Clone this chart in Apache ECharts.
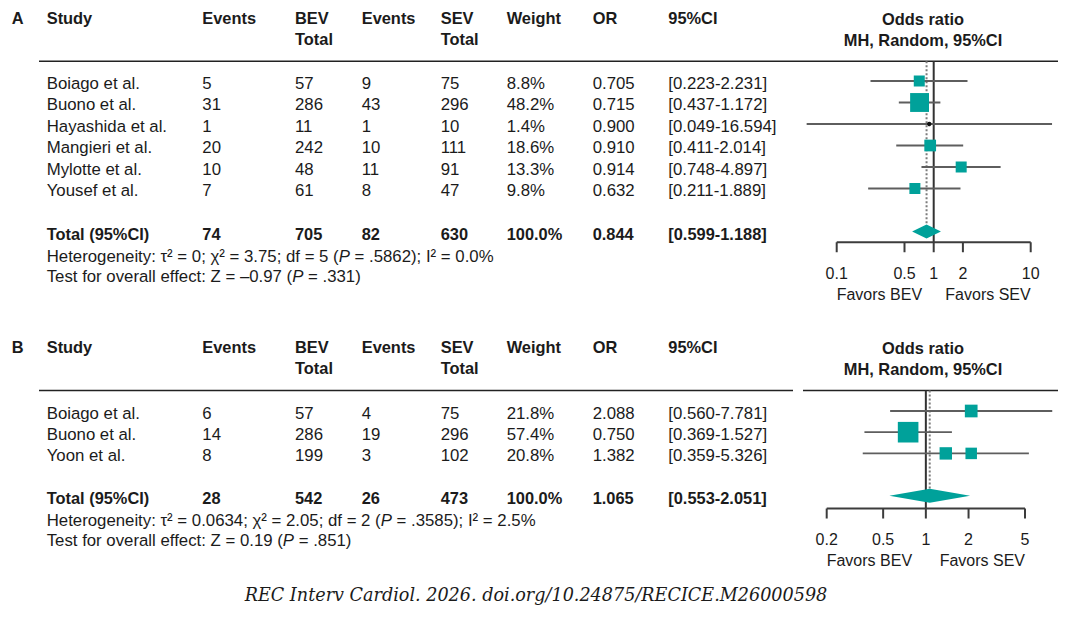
<!DOCTYPE html>
<html><head><meta charset="utf-8">
<script src="https://cdn.jsdelivr.net/npm/echarts@6/dist/echarts.min.js"></script>
<style>html,body{margin:0;padding:0;background:#fff}#c{width:1072px;height:621px}</style>
</head><body><div id="c"></div>
<script>
// ---------- Panel A data ----------
const studiesA = ['Boiago et al.', 'Buono et al.', 'Hayashida et al.', 'Mangieri et al.', 'Mylotte et al.', 'Yousef et al.'];
const eventsBevA = [5, 31, 1, 20, 10, 7];
const totalBevA = [57, 286, 11, 242, 48, 61];
const eventsSevA = [9, 43, 1, 10, 11, 8];
const totalSevA = [75, 296, 10, 111, 91, 47];
const weightA = [8.8, 48.2, 1.4, 18.6, 13.3, 9.8];
const orTextA = ['0.705', '0.715', '0.900', '0.910', '0.914', '0.632'];
const lowA = [0.223, 0.437, 0.049, 0.411, 0.748, 0.211];
const highA = [2.231, 1.172, 16.594, 2.014, 4.897, 1.889];
const pointA = [0.71, 0.715, 0.90, 0.92, 1.92, 0.64];   // marker positions as drawn
const totalRowA = ['Total (95%CI)', '74', '705', '82', '630', '100.0%', '0.844', '[0.599-1.188]'];
const pooledA = [0.844, 0.599, 1.188];
const ticksA = [0.1, 0.5, 1, 2, 10];
const statsA = ['Heterogeneity: τ² = 0; χ² = 3.75; df = 5 ({i|P} = .5862); I² = 0.0%', 'Test for overall effect: Z = –0.97 ({i|P} = .331)'];

// ---------- Panel B data ----------
const studiesB = ['Boiago et al.', 'Buono et al.', 'Yoon et al.'];
const eventsBevB = [6, 14, 8];
const totalBevB = [57, 286, 199];
const eventsSevB = [4, 19, 3];
const totalSevB = [75, 296, 102];
const weightB = [21.8, 57.4, 20.8];
const orTextB = ['2.088', '0.750', '1.382'];
const lowB = [0.560, 0.369, 0.359];
const highB = [7.781, 1.527, 5.326];
const pointB = [2.088, 0.750, 1.382];
const extraPointB = [[2.088, 2]];   // extra square drawn on the Yoon row
const totalRowB = ['Total (95%CI)', '28', '542', '26', '473', '100.0%', '1.065', '[0.553-2.051]'];
const pooledB = [1.065, 0.553, 2.051];
const ticksB = [0.2, 0.5, 1, 2, 5];
const statsB = ['Heterogeneity: τ² = 0.0634; χ² = 2.05; df = 2 ({i|P} = .3585); I² = 2.5%', 'Test for overall effect: Z = 0.19 ({i|P} = .851)'];

const headTop = ['Study', 'Events', 'BEV', 'Events', 'SEV', 'Weight', 'OR', '95%CI'];
const headBottom = ['', '', 'Total', '', 'Total', '', '', ''];
const plotTitle = ['Odds ratio', 'MH, Random, 95%CI'];
const favors = ['Favors BEV', 'Favors SEV'];
const caption = 'REC Interv Cardiol. 2026. doi.org/10.24875/RECICE.M26000598';

// ---------- styling / layout ----------
const FONT = 'Liberation Sans, Arial, Helvetica, sans-serif';
const FS = 16.8, FSB = 16.4, FSA = 16;
const C_TEXT = '#1b1b1b', C_TEAL = '#00a19a', C_CI = '#5e5e5e', C_AXIS = '#3c3c3c';
const colX = [46.7, 202.3, 295, 361.7, 440.7, 506.7, 592.7, 668.3];

const panels = [
  { label: 'A', studies: studiesA, evB: eventsBevA, totB: totalBevA, evS: eventsSevA, totS: totalSevA,
    weight: weightA, orText: orTextA, low: lowA, high: highA, point: pointA, extra: [],
    totalRow: totalRowA, pooled: pooledA, ticks: ticksA, stats: statsA,
    grid: { left: 836.7, top: 59.5, width: 194, height: 193.5 }, yMin: -1, yMax: 8,
    pooledRow: 7, axisRow: 7.5, headRow: -0.92, headY: 18.3, lineY: 61.3, split: false },
  { label: 'B', studies: studiesB, evB: eventsBevB, totB: totalBevB, evS: eventsSevB, totS: totalSevB,
    weight: weightB, orText: orTextB, low: lowB, high: highB, point: pointB, extra: extraPointB,
    totalRow: totalRowB, pooled: pooledB, ticks: ticksB, stats: statsB,
    grid: { left: 826.7, top: 389.8, width: 198.3, height: 127.2 }, yMin: -1, yMax: 5,
    pooledRow: 4, axisRow: 4.6, headRow: -0.97, headY: 347.3, lineY: 390.5, split: true }
];

function txt(text, x, y, o) {
  o = o || {};
  return { type: 'text', x: x, y: y, silent: true, z: 10,
    style: { text: text, fill: C_TEXT, fontSize: o.size || FS, fontFamily: o.family || FONT,
      fontWeight: o.bold ? 'bold' : 'normal', fontStyle: o.italic ? 'italic' : 'normal',
      textAlign: o.align || 'left', textVerticalAlign: 'middle' } };
}

const grids = [], xAxes = [], yAxes = [], series = [], graphics = [];

panels.forEach(function (P, gi) {
  grids.push(P.grid);
  xAxes.push({ type: 'log', logBase: 10, gridIndex: gi, min: P.ticks[0], max: P.ticks[P.ticks.length - 1], show: false });
  yAxes.push({ type: 'value', gridIndex: gi, min: P.yMin, max: P.yMax, inverse: true, show: false });

  // header texts
  graphics.push(txt(P.label, 11.7, P.headY, { bold: true, size: FSB }));
  headTop.forEach(function (t, k) { graphics.push(txt(t, colX[k], P.headY, { bold: true, size: FSB })); });
  headBottom.forEach(function (t, k) { if (t) graphics.push(txt(t, colX[k], P.headY + 21, { bold: true, size: FSB })); });
  graphics.push(txt(plotTitle[0], 923, P.headY + 0.5, { bold: true, align: 'center', size: FSB }));
  graphics.push(txt(plotTitle[1], 923, P.headY + 22, { bold: true, align: 'center', size: FSB }));
  // header rule
  if (P.split) {
    graphics.push({ type: 'line', silent: true, shape: { x1: 39, y1: P.lineY, x2: 793, y2: P.lineY }, style: { stroke: '#222', lineWidth: 1.5 } });
    graphics.push({ type: 'line', silent: true, shape: { x1: 803, y1: P.lineY, x2: 1058, y2: P.lineY }, style: { stroke: '#222', lineWidth: 1.5 } });
  } else {
    graphics.push({ type: 'line', silent: true, shape: { x1: 39, y1: P.lineY, x2: 1058, y2: P.lineY }, style: { stroke: '#222', lineWidth: 1.5 } });
  }

  // table text rows, placed on the forest plot's own row scale
  const tableData = P.studies.map(function (s, i) { return [1, i, i]; });
  tableData.push([1, P.pooledRow, -1]);
  series.push({
    type: 'custom', coordinateSystem: 'cartesian2d', xAxisIndex: gi, yAxisIndex: gi, silent: true, clip: false, z: 5,
    encode: { x: 0, y: 1 }, data: tableData,
    renderItem: function (params, api) {
      const idx = api.value(2);
      const y = api.coord([1, api.value(1)])[1] + 2;
      const bold = idx < 0;
      const cells = bold ? P.totalRow : [P.studies[idx], P.evB[idx], P.totB[idx], P.evS[idx], P.totS[idx],
        P.weight[idx].toFixed(1) + '%', P.orText[idx], '[' + P.low[idx].toFixed(3) + '-' + P.high[idx].toFixed(3) + ']'];
      const children = cells.map(function (t, k) {
        return { type: 'text', style: { text: String(t), x: colX[k], y: y, fill: C_TEXT, fontSize: bold ? FSB : FS, fontFamily: FONT,
          fontWeight: bold ? 'bold' : 'normal', textAlign: 'left', textVerticalAlign: 'middle' } };
      });
      if (bold) {
        P.stats.forEach(function (s, j) {
          children.push({ type: 'text', style: { text: s, x: colX[0], y: y + 22.5 + 20 * j, fill: C_TEXT, fontSize: FS, fontFamily: FONT,
            textAlign: 'left', textVerticalAlign: 'middle',
            rich: { i: { fontStyle: 'italic', fontSize: FS, fontFamily: FONT, fill: C_TEXT } } } });
        });
      }
      return { type: 'group', children: children };
    }
  });

  // null-effect line
  series.push({ type: 'line', xAxisIndex: gi, yAxisIndex: gi, silent: true, symbol: 'none', z: 2, animation: false,
    data: [[1, P.headRow], [1, P.axisRow]], lineStyle: { color: '#333', width: 2 } });
  // pooled estimate dotted line
  series.push({ type: 'line', xAxisIndex: gi, yAxisIndex: gi, silent: true, symbol: 'none', z: 2, animation: false,
    data: [[P.pooled[0], P.headRow], [P.pooled[0], P.pooledRow - 0.33]], lineStyle: { color: '#7c7c7c', width: 2, type: [2, 2] } });
  // bottom axis line
  series.push({ type: 'line', xAxisIndex: gi, yAxisIndex: gi, silent: true, symbol: 'none', z: 2, animation: false,
    data: [[P.ticks[0], P.axisRow], [P.ticks[P.ticks.length - 1], P.axisRow]], lineStyle: { color: C_AXIS, width: 2 } });

  // ticks + labels
  series.push({
    type: 'custom', coordinateSystem: 'cartesian2d', xAxisIndex: gi, yAxisIndex: gi, silent: true, clip: false, z: 3,
    encode: { x: 0, y: 1 }, data: P.ticks.map(function (v) { return [v, P.axisRow]; }),
    renderItem: function (params, api) {
      const p = api.coord([api.value(0), api.value(1)]);
      return { type: 'group', children: [
        { type: 'line', shape: { x1: p[0], y1: p[1], x2: p[0], y2: p[1] + 10 }, style: { stroke: C_AXIS, lineWidth: 2 } },
        { type: 'text', style: { text: String(api.value(0)), x: p[0], y: p[1] + 31, fill: C_TEXT, fontSize: FSA, fontFamily: FONT,
          textAlign: 'center', textVerticalAlign: 'middle' } }
      ] };
    }
  });
  // favours labels
  series.push({
    type: 'custom', coordinateSystem: 'cartesian2d', xAxisIndex: gi, yAxisIndex: gi, silent: true, clip: false, z: 3,
    encode: { x: 0, y: 1 },
    data: [[P.ticks[0], P.axisRow, 0], [P.ticks[P.ticks.length - 1], P.axisRow, 1]],
    renderItem: function (params, api) {
      const p = api.coord([api.value(0), api.value(1)]);
      const k = api.value(2);
      return { type: 'text', style: { text: favors[k], x: p[0], y: p[1] + 52, fill: C_TEXT, fontSize: FSA, fontFamily: FONT,
        textAlign: k === 0 ? 'left' : 'right', textVerticalAlign: 'middle' } };
    }
  });

  // study CIs and squares
  series.push({
    type: 'custom', coordinateSystem: 'cartesian2d', xAxisIndex: gi, yAxisIndex: gi, silent: true, clip: false, z: 4,
    encode: { x: 0, y: 1 },
    data: P.point.map(function (v, i) { return [v, i, P.low[i], P.high[i], P.weight[i]]; }),
    renderItem: function (params, api) {
      const row = api.value(1), w = api.value(4);
      const c = api.coord([api.value(0), row]);
      const l = api.coord([api.value(2), row]);
      const h = api.coord([api.value(3), row]);
      const children = [{ type: 'line', shape: { x1: l[0], y1: l[1], x2: h[0], y2: h[1] }, style: { stroke: C_CI, lineWidth: 1.8 } }];
      if (w < 5) {
        children.push({ type: 'circle', shape: { cx: c[0], cy: c[1], r: 2.2 }, style: { fill: '#111' } });
      } else {
        const s = Math.max(11, 2.72 * Math.sqrt(w));
        children.push({ type: 'rect', shape: { x: c[0] - s / 2, y: c[1] - s / 2, width: s, height: s }, style: { fill: C_TEAL } });
      }
      return { type: 'group', children: children };
    }
  });
  if (P.extra.length) {
    series.push({
      type: 'custom', coordinateSystem: 'cartesian2d', xAxisIndex: gi, yAxisIndex: gi, silent: true, clip: false, z: 4,
      encode: { x: 0, y: 1 }, data: P.extra,
      renderItem: function (params, api) {
        const c = api.coord([api.value(0), api.value(1)]);
        const s = 11.5;
        return { type: 'rect', shape: { x: c[0] - s / 2, y: c[1] - s / 2, width: s, height: s }, style: { fill: C_TEAL } };
      }
    });
  }
  // pooled diamond
  series.push({
    type: 'custom', coordinateSystem: 'cartesian2d', xAxisIndex: gi, yAxisIndex: gi, silent: true, clip: false, z: 4,
    encode: { x: 0, y: 1 }, data: [[P.pooled[0], P.pooledRow, P.pooled[1], P.pooled[2]]],
    renderItem: function (params, api) {
      const row = api.value(1);
      const c = api.coord([api.value(0), row]);
      const l = api.coord([api.value(2), row]);
      const h = api.coord([api.value(3), row]);
      return { type: 'polygon', shape: { points: [[l[0], l[1]], [c[0], c[1] - 7], [h[0], h[1]], [c[0], c[1] + 7]] }, style: { fill: C_TEAL } };
    }
  });
});

graphics.push(txt(caption, 536, 595, { family: 'DejaVu Serif, serif', italic: true, size: 17.6, align: 'center' }));

const chart = echarts.init(document.getElementById('c'), null, { renderer: 'svg' });
chart.setOption({
  animation: false,
  backgroundColor: '#fff',
  grid: grids, xAxis: xAxes, yAxis: yAxes,
  series: series,
  graphic: { elements: graphics }
});
</script>
</body></html>
